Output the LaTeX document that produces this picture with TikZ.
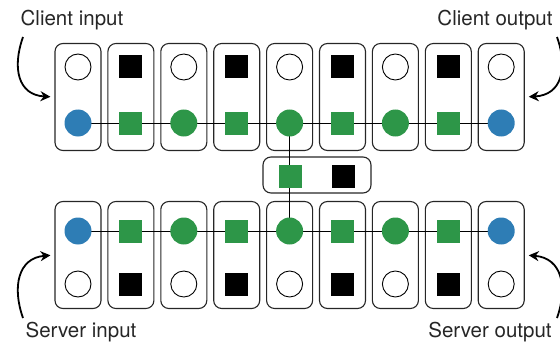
\documentclass[tikz,border=0pt]{standalone}
\usepackage{fontspec}
\setmainfont{TeX Gyre Heros}
\usetikzlibrary{arrows.meta}
\definecolor{cblue}{RGB}{46,125,181}
\definecolor{cgreen}{RGB}{45,150,72}
\begin{document}
\begin{tikzpicture}[x=1pt,y=-1pt,
  cell/.style={draw=black!85,line width=1.1pt,rounded corners=8pt,minimum width=46pt,minimum height=107pt,inner sep=0pt},
  midbox/.style={draw=black!85,line width=1.1pt,rounded corners=8pt,minimum width=108pt,minimum height=36pt,inner sep=0pt},
  wcirc/.style={circle,draw=black,line width=0.9pt,fill=white,minimum size=26pt,inner sep=0pt},
  bcirc/.style={circle,fill=cblue,minimum size=27pt,inner sep=0pt},
  gcirc/.style={circle,fill=cgreen,minimum size=27pt,inner sep=0pt},
  gsq/.style={rectangle,fill=cgreen,minimum size=23pt,inner sep=0pt},
  ksq/.style={rectangle,fill=black,minimum size=23pt,inner sep=0pt},
  lab/.style={font=\fontsize{20.5}{22}\selectfont,text=black!85},
  conn/.style={draw=black,line width=0.9pt},
  curv/.style={draw=black,line width=1.8pt,shorten >=4pt,-{Stealth[length=10pt,width=10pt]}}
]
\useasboundingbox (0,0) rectangle (560,345);
% boxes
\foreach \i in {1,...,9}{
  \pgfmathsetmacro{\xx}{78+52.9*(\i-1)}
  \node[cell] (tbox\i) at (\xx,97) {};
  \node[cell] (bbox\i) at (\xx,255) {};
}
\node[midbox] (mbox) at (317,175) {};
% connector lines (drawn first, covered by shapes)
\foreach \i [evaluate=\i as \xx using 78+52.9*(\i-1)] in {1,...,9}{
  \coordinate (tc\i) at (\xx,123);
  \coordinate (bc\i) at (\xx,231);
}
\draw[conn] (tc1) -- (tc9);
\draw[conn] (bc1) -- (bc9);
\draw[conn] (tc5) -- (bc5);
% elements
\foreach \i [evaluate=\i as \xx using 78+52.9*(\i-1)] in {1,3,5,7,9}{
  \node[wcirc] (tA\i) at (\xx,67) {};
  \node[wcirc] (bB\i) at (\xx,284) {};
}
\foreach \i [evaluate=\i as \xx using 78+52.9*(\i-1)] in {2,4,6,8}{
  \node[ksq] (tA\i) at (\xx,67) {};
  \node[ksq] (bB\i) at (\xx,284) {};
  \node[gsq] (tB\i) at (\xx,123) {};
  \node[gsq] (bA\i) at (\xx,231) {};
}
\foreach \i [evaluate=\i as \xx using 78+52.9*(\i-1)] in {3,5,7}{
  \node[gcirc] (tB\i) at (\xx,123) {};
  \node[gcirc] (bA\i) at (\xx,231) {};
}
\node[bcirc] (tB1) at (tc1) {};
\node[bcirc] (tB9) at (tc9) {};
\node[bcirc] (bA1) at (bc1) {};
\node[bcirc] (bA9) at (bc9) {};
\node[gsq] (mg) at (290,176) {};
\node[ksq] (mk) at (343,176) {};
% labels
\node[lab] (ci) at (72,20) {Client input};
\node[lab] (co) at (495,20) {Client output};
\node[lab] (si) at (81,332) {Server input};
\node[lab] (so) at (490,332) {Server output};
% curved arrows
\coordinate (ci0) at (23,37);
\coordinate (co0) at (557,37);
\coordinate (si0) at (23,318);
\coordinate (so0) at (557,318);
\draw[curv] (ci0) .. controls (12,68) and (18,95) .. (tbox1.west);
\draw[curv] (co0) .. controls (568,68) and (562,95) .. (tbox9.east);
\draw[curv] (si0) .. controls (12,287) and (18,258) .. (bbox1.west);
\draw[curv] (so0) .. controls (568,287) and (562,258) .. (bbox9.east);
\end{tikzpicture}
\end{document}
